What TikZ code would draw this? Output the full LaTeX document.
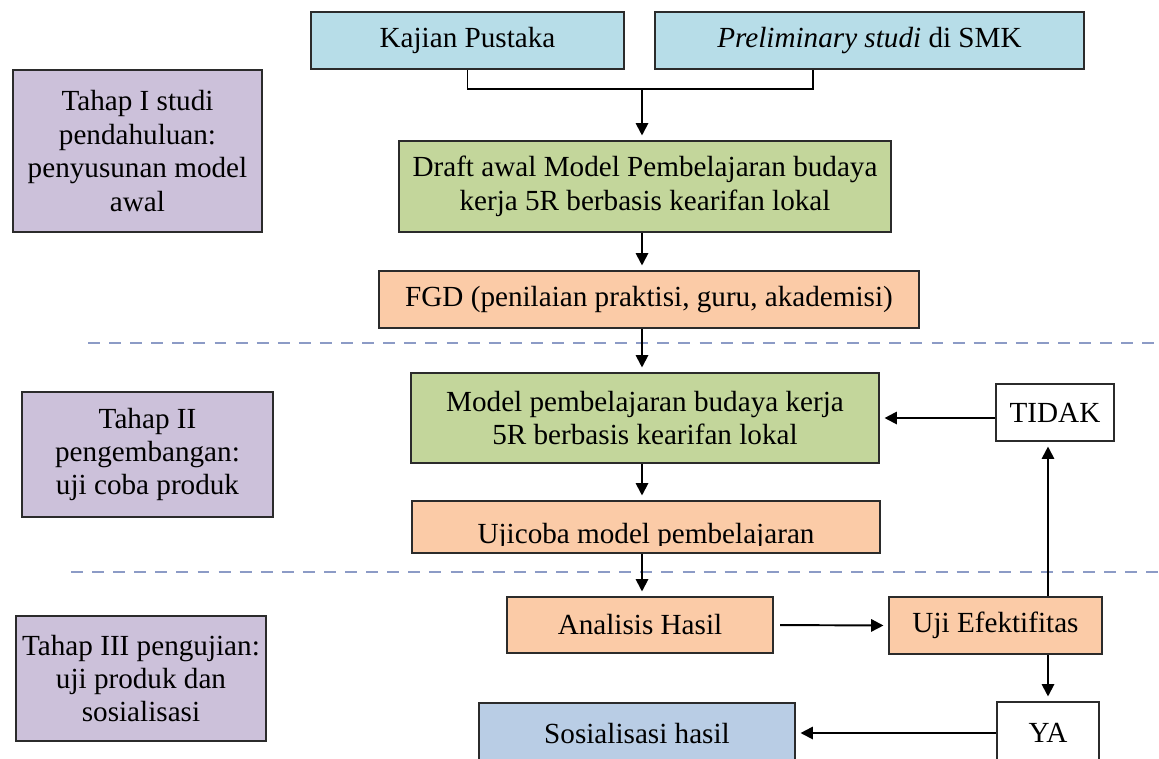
\documentclass[tikz,border=0pt]{standalone}
\usepackage{fontspec}
\setmainfont{Liberation Serif}
\usetikzlibrary{arrows.meta}

\definecolor{sourceblue}{HTML}{B7DDE8}
\definecolor{phasepurple}{HTML}{CCC1DA}
\definecolor{modelgreen}{HTML}{C3D69B}
\definecolor{taskpeach}{HTML}{FBCBA7}
\definecolor{resultblue}{HTML}{B9CDE5}
\definecolor{phaseline}{HTML}{8C9BC6}
\definecolor{boxline}{HTML}{2B2B2B}

\begin{document}
\begin{tikzpicture}[x=0.2mm, y=-0.2mm,
        every node/.style={font=\fontsize{16.6}{19}\selectfont, inner sep=0pt, align=center},
        block/.style={draw=boxline, line width=1.3pt},
        boxsize/.style 2 args={minimum width=#1*0.2mm, minimum height=#2*0.2mm},
        flow/.style={-{Triangle[length=7pt,width=7pt]}, line width=1.1pt, shorten >=2.5pt},
        phasesep/.style={draw=phaseline, line width=1.1pt, dash pattern=on 6.8pt off 5.2pt}]
    \useasboundingbox (0,0) rectangle (1159,758);
    \clip (0,0) rectangle (1159,758);

    \node[block, fill=sourceblue, boxsize={313}{57}] (kajian) at (467.5,40.5) {Kajian Pustaka};
    \node[block, fill=sourceblue, boxsize={429}{57}] (prelim) at (869.5,40.5) {\textit{Preliminary studi} di SMK};
    \node[block, fill=phasepurple, boxsize={249}{162}] (tahapI) at (137.5,151)
        {Tahap I studi\\pendahuluan:\\penyusunan model\\awal};
    \node[block, fill=modelgreen, boxsize={492}{91}] (draft) at (645,186.5)
        {Draft awal Model Pembelajaran budaya\\kerja 5R berbasis kearifan lokal};
    \node[block, fill=taskpeach, boxsize={540}{57}] (fgd) at (649,299.5)
        {FGD (penilaian praktisi, guru, akademisi)};

    \node[block, fill=modelgreen, boxsize={468}{90}] (model) at (645,418)
        {Model pembelajaran budaya kerja\\5R berbasis kearifan lokal};
    \node[block, fill=white, boxsize={118}{57}] (tidak) at (1055,412.5) {TIDAK};
    \node[block, fill=phasepurple, boxsize={251}{125}] (tahapII) at (147.5,454.5)
        {Tahap II\\pengembangan:\\uji coba produk};
    \node[block, fill=taskpeach, boxsize={468}{52}] (ujicoba) at (646,527) {};
    \coordinate (ujicut) at (0,545.5);
    \begin{scope}
        \clip (ujicoba.north west) rectangle (ujicoba.east |- ujicut);
        \node[anchor=base] (ujicobatext) at (646,543) {Ujicoba model pembelajaran};
    \end{scope}

    \node[block, fill=taskpeach, boxsize={266}{56}] (analisis) at (640,625) {Analisis Hasil};
    \node[block, fill=taskpeach, boxsize={213}{57}] (efektif) at (995.5,625.5) {Uji Efektifitas};
    \node[block, fill=phasepurple, boxsize={250}{125}] (tahapIII) at (141,678.5)
        {Tahap III pengujian:\\uji produk dan\\sosialisasi};
    \node[block, fill=resultblue, boxsize={316}{62}] (sosial) at (637,734) {Sosialisasi hasil};
    \node[block, fill=white, boxsize={102}{62}] (ya) at (1048,733) {YA};

    \draw[phasesep] (88,343) -- (1159,343);
    \draw[phasesep] (71,572) -- (1159,572);

    \coordinate (join) at (642,89);
    \coordinate (fork) at (813,89);
    \coordinate (loop) at (1048,0);
    \draw[line width=1.1pt] (kajian.south) |- (fork) -- (fork |- prelim.south);
    \draw[flow] (join) -- (join |- draft.north);
    \draw[flow] (draft.south -| join) -- (join |- fgd.north);
    \draw[flow] (fgd.south -| join) -- (join |- model.north);
    \draw[flow] (model.south -| join) -- (join |- ujicoba.north);
    \draw[flow] (ujicoba.south -| join) -- (join |- analisis.north);
    \draw[flow, shorten <=3.4pt] (analisis.east) -- (efektif.west);
    \draw[flow] (efektif.north -| loop) -- (loop |- tidak.south);
    \draw[flow] (tidak.west |- model.east) -- (model.east);
    \draw[flow] (efektif.south -| loop) -- (loop |- ya.north);
    \draw[flow] (ya.west) -- (sosial.east |- ya.west);
\end{tikzpicture}
\end{document}
